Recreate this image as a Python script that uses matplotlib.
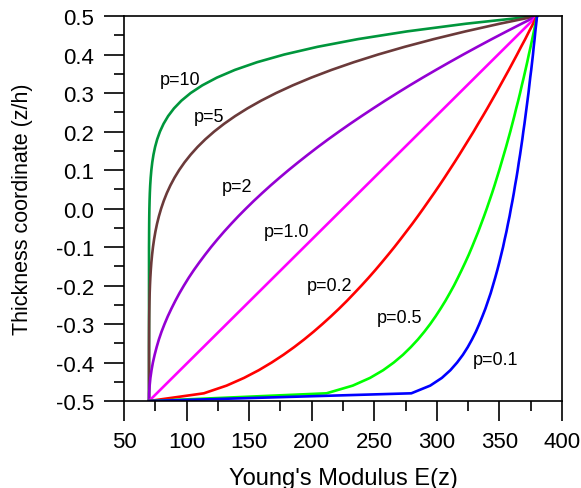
import matplotlib
matplotlib.use("Agg")
import matplotlib.pyplot as plt
from matplotlib.ticker import MultipleLocator, FormatStrFormatter

plt.rcParams['font.family'] = ['Liberation Sans', 'DejaVu Sans']
plt.rcParams['axes.unicode_minus'] = False

# thickness coordinate z/h (step 0.02)
z = [-0.50, -0.48, -0.46, -0.44, -0.42, -0.40, -0.38, -0.36, -0.34, -0.32,
     -0.30, -0.28, -0.26, -0.24, -0.22, -0.20, -0.18, -0.16, -0.14, -0.12,
     -0.10, -0.08, -0.06, -0.04, -0.02, 0.00, 0.02, 0.04, 0.06, 0.08,
     0.10, 0.12, 0.14, 0.16, 0.18, 0.20, 0.22, 0.24, 0.26, 0.28,
     0.30, 0.32, 0.34, 0.36, 0.38, 0.40, 0.42, 0.44, 0.46, 0.48, 0.50]

# Young's modulus E(z)
E_p10 = [70.0, 70.0, 70.0, 70.0, 70.0, 70.0, 70.0, 70.0, 70.0, 70.0,
         70.0, 70.0, 70.0, 70.0, 70.0, 70.0, 70.0, 70.0, 70.0, 70.0,
         70.0, 70.05, 70.08, 70.13, 70.2, 70.3, 70.45, 70.65, 70.94, 71.34,
         71.87, 72.6, 73.57, 74.86, 76.55, 78.76, 81.61, 85.26, 89.93, 95.84,
         103.29, 112.61, 124.22, 138.6, 156.34, 178.09, 204.66, 236.97, 276.1, 323.29, 380.0]

E_p5 = [70.0, 70.0, 70.0, 70.0, 70.0, 70.0, 70.0, 70.0, 70.03, 70.06,
        70.1, 70.16, 70.25, 70.37, 70.53, 70.75, 71.04, 71.41, 71.87, 72.46,
        73.17, 74.05, 75.11, 76.38, 77.9, 79.69, 81.79, 84.23, 87.07, 90.35,
        94.11, 98.4, 103.29, 108.82, 115.07, 122.1, 129.98, 138.79, 148.6, 159.5,
        171.58, 184.93, 199.65, 215.83, 233.6, 253.05, 274.32, 297.51, 322.77, 350.22, 380.0]

E_p2 = [70.0, 70.1, 70.5, 71.1, 72.0, 73.1, 74.5, 76.1, 77.9, 80.0,
        82.4, 85.0, 87.9, 91.0, 94.3, 97.9, 101.7, 105.8, 110.2, 114.8,
        119.6, 124.7, 130.0, 135.6, 141.4, 147.5, 153.8, 160.4, 167.2, 174.3,
        181.6, 189.2, 197.0, 205.0, 213.3, 221.9, 230.7, 239.8, 249.1, 258.6,
        268.4, 278.4, 288.7, 299.3, 310.1, 321.1, 332.4, 343.9, 355.7, 367.7, 380.0]

E_p1 = [70.0, 76.2, 82.4, 88.6, 94.8, 101.0, 107.2, 113.4, 119.6, 125.8,
        132.0, 138.2, 144.4, 150.6, 156.8, 163.0, 169.2, 175.4, 181.6, 187.8,
        194.0, 200.2, 206.4, 212.6, 218.8, 225.0, 231.2, 237.4, 243.6, 249.8,
        256.0, 262.2, 268.4, 274.6, 280.8, 287.0, 293.2, 299.4, 305.6, 311.8,
        318.0, 324.2, 330.4, 336.6, 342.8, 349.0, 355.2, 361.4, 367.6, 373.8, 380.0]

# red curve (labelled p=0.2 on the chart)
E_red = [70.0, 113.8, 132.0, 145.9, 157.7, 168.0, 177.4, 186.0, 194.0, 201.5,
         208.6, 215.4, 221.9, 228.1, 234.0, 239.8, 245.4, 250.8, 256.0, 261.1,
         266.1, 270.9, 275.6, 280.3, 284.8, 289.2, 293.5, 297.8, 302.0, 306.1,
         310.1, 314.1, 318.0, 321.8, 325.6, 329.4, 333.0, 336.7, 340.3, 343.8,
         347.3, 350.7, 354.1, 357.5, 360.8, 364.1, 367.3, 370.6, 373.7, 376.9, 380.0]

# light green curve (labelled p=0.5 on the chart)
E_lime = [70.0, 211.8, 232.8, 246.6, 257.1, 265.6, 272.9, 279.2, 284.9, 290.0,
          294.7, 299.0, 303.0, 306.8, 310.3, 313.7, 316.8, 319.8, 322.7, 325.5,
          328.1, 330.6, 333.1, 335.4, 337.7, 339.9, 342.0, 344.1, 346.1, 348.0,
          349.9, 351.7, 353.5, 355.3, 357.0, 358.7, 360.3, 361.9, 363.4, 365.0,
          366.5, 367.9, 369.4, 370.8, 372.2, 373.5, 374.9, 376.2, 377.5, 378.8, 380.0]

E_p01 = [70.0, 279.6, 294.7, 304.0, 310.8, 316.2, 320.8, 324.7, 328.1, 331.2,
         333.9, 336.4, 338.8, 340.9, 343.0, 344.8, 346.6, 348.3, 349.9, 351.4,
         352.9, 354.2, 355.6, 356.8, 358.1, 359.2, 360.4, 361.5, 362.5, 363.6,
         364.6, 365.5, 366.5, 367.4, 368.3, 369.1, 370.0, 370.8, 371.6, 372.4,
         373.2, 373.9, 374.6, 375.4, 376.1, 376.8, 377.4, 378.1, 378.7, 379.4, 380.0]

curves = [E_p10, E_p5, E_p2, E_p1, E_red, E_lime, E_p01]
colores = ['#00963C', '#6B3A3A', '#9400D3', '#FF00FF', '#FF0000', '#00FF00', '#0000FF']

etiquetas = ['p=10', 'p=5', 'p=2', 'p=1.0', 'p=0.2', 'p=0.5', 'p=0.1']
pos_etiquetas = [(79, 0.336), (106, 0.238), (128, 0.058), (162, -0.061),
                 (196, -0.200), (252, -0.284), (329, -0.393)]

fig = plt.figure(figsize=(5.81, 4.89), dpi=100)
ax = fig.add_axes([0.2134, 0.1779, 0.7539, 0.7873])

for E, c in zip(curves, colores):
    ax.plot(E, z, color=c, linewidth=1.9)

for txt, (x, y) in zip(etiquetas, pos_etiquetas):
    ax.text(x, y, txt, fontsize=13, ha='left', va='center')

ax.set_xlim(50, 400)
ax.set_ylim(-0.5, 0.5)
ax.xaxis.set_major_locator(MultipleLocator(50))
ax.xaxis.set_minor_locator(MultipleLocator(25))
ax.yaxis.set_major_locator(MultipleLocator(0.1))
ax.yaxis.set_minor_locator(MultipleLocator(0.05))
ax.yaxis.set_major_formatter(FormatStrFormatter('%.1f'))

ax.tick_params(which='major', direction='out', length=14.5, width=1.2, labelsize=16,
               pad=7, top=False, right=False)
ax.tick_params(which='minor', direction='out', length=7, width=1.2,
               top=False, right=False)
for s in ax.spines.values():
    s.set_linewidth(1.2)

ax.set_xlabel("Young's Modulus E(z)", fontsize=17, labelpad=11)
ax.set_ylabel("Thickness coordinate (z/h)", fontsize=15.5)
ax.yaxis.set_label_coords(-0.208, 0.5)

fig.savefig('out.png', dpi=100)
